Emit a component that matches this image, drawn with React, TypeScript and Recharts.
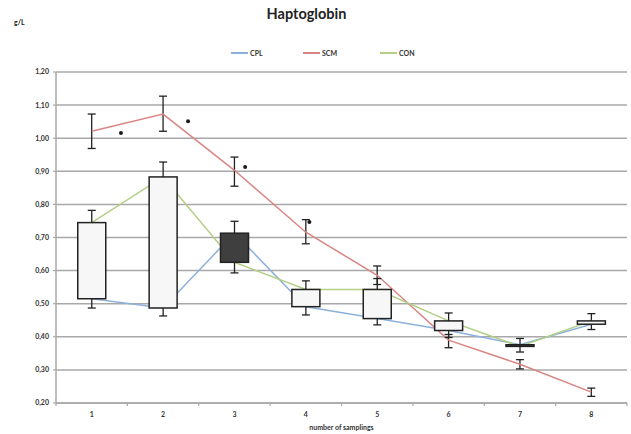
import React from 'react';
import {
  ComposedChart, Line, Bar, Scatter, XAxis, YAxis, CartesianGrid, ErrorBar,
} from 'recharts';

const categories = [1, 2, 3, 4, 5, 6, 7, 8];
const cpl = [0.515, 0.487, 0.713, 0.491, 0.455, 0.419, 0.376, 0.438];
const con = [0.745, 0.883, 0.625, 0.543, 0.543, 0.448, 0.371, 0.448];
const scm = [1.021, 1.073, 0.903, 0.716, 0.586, 0.390, 0.317, 0.233];
const scmLow = [0.969, 1.021, 0.855, 0.681, 0.558, 0.367, 0.303, 0.220];
const scmHigh = [1.073, 1.127, 0.943, 0.754, 0.614, 0.407, 0.331, 0.245];
const whiskerLow = [0.487, 0.463, 0.593, 0.466, 0.436, 0.398, 0.354, 0.422];
const whiskerHigh = [0.782, 0.928, 0.749, 0.569, 0.576, 0.472, 0.395, 0.470];
const starX = [1.41, 2.35, 3.15, 4.05];
const starY = [1.016, 1.051, 0.913, 0.747];
const yTicks = [0.2, 0.3, 0.4, 0.5, 0.6, 0.7, 0.8, 0.9, 1.0, 1.1, 1.2];
const xTicks = [0.5, 1, 1.5, 2, 2.5, 3, 3.5, 4, 4.5, 5, 5.5, 6, 6.5, 7, 7.5, 8, 8.5];

const data = categories.map((c, i) => ({
  x: c,
  cpl: cpl[i],
  con: con[i],
  scm: scm[i],
  scmErr: [scm[i] - scmLow[i], scmHigh[i] - scm[i]],
  whisker: [whiskerLow[i], whiskerHigh[i]],
  wLow: whiskerLow[i],
  wHigh: whiskerHigh[i],
}));
const stars = starX.map((x, i) => ({ x, y: starY[i] }));

const BLUE = '#8db1dc';
const RED = '#d98683';
const GREEN = '#b3cf86';
const GRID = '#a8a8a8';
const FONT = 'Lato, "Open Sans", sans-serif';
const BOX_HALF = 14;

const BoxShape = (props: any) => {
  const { x, y, width, height, payload } = props;
  const top = Math.min(y, y + height);
  const h = Math.abs(height);
  const span = payload.wHigh - payload.wLow;
  const ppu = span > 0 ? h / span : 0;
  const hi = Math.max(payload.cpl, payload.con);
  const lo = Math.min(payload.cpl, payload.con);
  const boxTop = top + (payload.wHigh - hi) * ppu;
  const boxBot = top + (payload.wHigh - lo) * ppu;
  const cx = x + width / 2;
  const bottom = top + h;
  const dark = payload.cpl > payload.con;
  return (
    <g>
      <line x1={cx} y1={top} x2={cx} y2={bottom} stroke="#222" strokeWidth={1.3} />
      <line x1={cx - 4} y1={top} x2={cx + 4} y2={top} stroke="#222" strokeWidth={1.3} />
      <line x1={cx - 4} y1={bottom} x2={cx + 4} y2={bottom} stroke="#222" strokeWidth={1.3} />
      <rect
        x={cx - BOX_HALF}
        y={boxTop}
        width={BOX_HALF * 2}
        height={Math.max(boxBot - boxTop, 1.5)}
        fill={dark ? '#3f3f3f' : '#f7f7f7'}
        stroke="#222"
        strokeWidth={1.5}
      />
    </g>
  );
};

const XTick = (props: any) => {
  const { x, y, payload } = props;
  const v = payload.value;
  if (Math.abs(v - Math.round(v)) > 0.01) {
    return <line x1={x} y1={y} x2={x} y2={y + 3} stroke={GRID} strokeWidth={1.2} />;
  }
  return (
    <text x={x} y={y + 14} textAnchor="middle" fontSize={7} fontWeight={700} fontFamily={FONT} fill="#333">
      {v}
    </text>
  );
};

const StarShape = (props: any) => {
  const { cx, cy } = props;
  return <circle cx={cx} cy={cy} r={2} fill="#1a1a1a" />;
};

const legendItems = [
  { name: 'CPL', color: BLUE, left: 231 },
  { name: 'SCM', color: RED, left: 303 },
  { name: 'CON', color: GREEN, left: 380 },
];

export default function App() {
  return (
    <div style={{ position: 'absolute', left: 0, top: 0, width: 631, height: 434, background: '#fff' }}>
      <ComposedChart
        width={631}
        height={434}
        data={data}
        margin={{ top: 72, right: 4, bottom: 0, left: 0 }}
      >
        <CartesianGrid vertical={false} stroke={GRID} strokeWidth={1.5} />
        <XAxis
          dataKey="x"
          type="number"
          domain={[0.5, 8.5]}
          ticks={xTicks}
          interval={0}
          tick={<XTick />}
          tickLine={false}
          tickSize={0}
          tickMargin={0}
          height={31}
          axisLine={{ stroke: GRID, strokeWidth: 1.5 }}
          label={{ value: 'number of samplings', position: 'insideBottom', offset: 4, fontSize: 7, fontWeight: 700, fontFamily: FONT, fill: '#333' }}
        />
        <YAxis
          type="number"
          domain={[0.2, 1.2]}
          ticks={yTicks}
          interval={0}
          width={56}
          tickSize={3}
          tickMargin={4}
          tickFormatter={(v: number) => v.toFixed(2).replace('.', ',')}
          tick={{ fontSize: 7, fontWeight: 700, fontFamily: FONT, fill: '#333' }}
          axisLine={{ stroke: GRID, strokeWidth: 1.5 }}
          tickLine={{ stroke: GRID, strokeWidth: 1.2 }}
        />
        <Line dataKey="cpl" name="CPL" stroke={BLUE} strokeWidth={1.5} dot={false} isAnimationActive={false} />
        <Line dataKey="scm" name="SCM" stroke={RED} strokeWidth={1.5} dot={false} isAnimationActive={false}>
          <ErrorBar dataKey="scmErr" width={4} stroke="#222" strokeWidth={1.3} direction="y" />
        </Line>
        <Line dataKey="con" name="CON" stroke={GREEN} strokeWidth={1.5} dot={false} isAnimationActive={false} />
        <Bar
          dataKey="whisker"
          shape={<BoxShape />}
          isAnimationActive={false}
          legendType="none"
          zIndex={450}
        />
        <Scatter data={stars} dataKey="y" shape={<StarShape />} isAnimationActive={false} legendType="none" zIndex={700} />
      </ComposedChart>
      <div
        style={{
          position: 'absolute', left: 0, width: 613, top: 5, textAlign: 'center',
          fontFamily: FONT, fontWeight: 700, fontSize: 14.5, color: '#222',
        }}
      >
        Haptoglobin
      </div>
      <div
        style={{
          position: 'absolute', left: 14, top: 18, fontFamily: FONT, fontWeight: 700,
          fontSize: 7, color: '#222',
        }}
      >
        g/L
      </div>
      {legendItems.map((it) => (
        <div
          key={it.name}
          style={{ position: 'absolute', left: it.left, top: 47, display: 'flex', alignItems: 'center', height: 12 }}
        >
          <div style={{ width: 17, height: 2, background: it.color }} />
          <span style={{ fontFamily: FONT, fontSize: 7, fontWeight: 700, color: '#333', marginLeft: 2 }}>{it.name}</span>
        </div>
      ))}
    </div>
  );
}
